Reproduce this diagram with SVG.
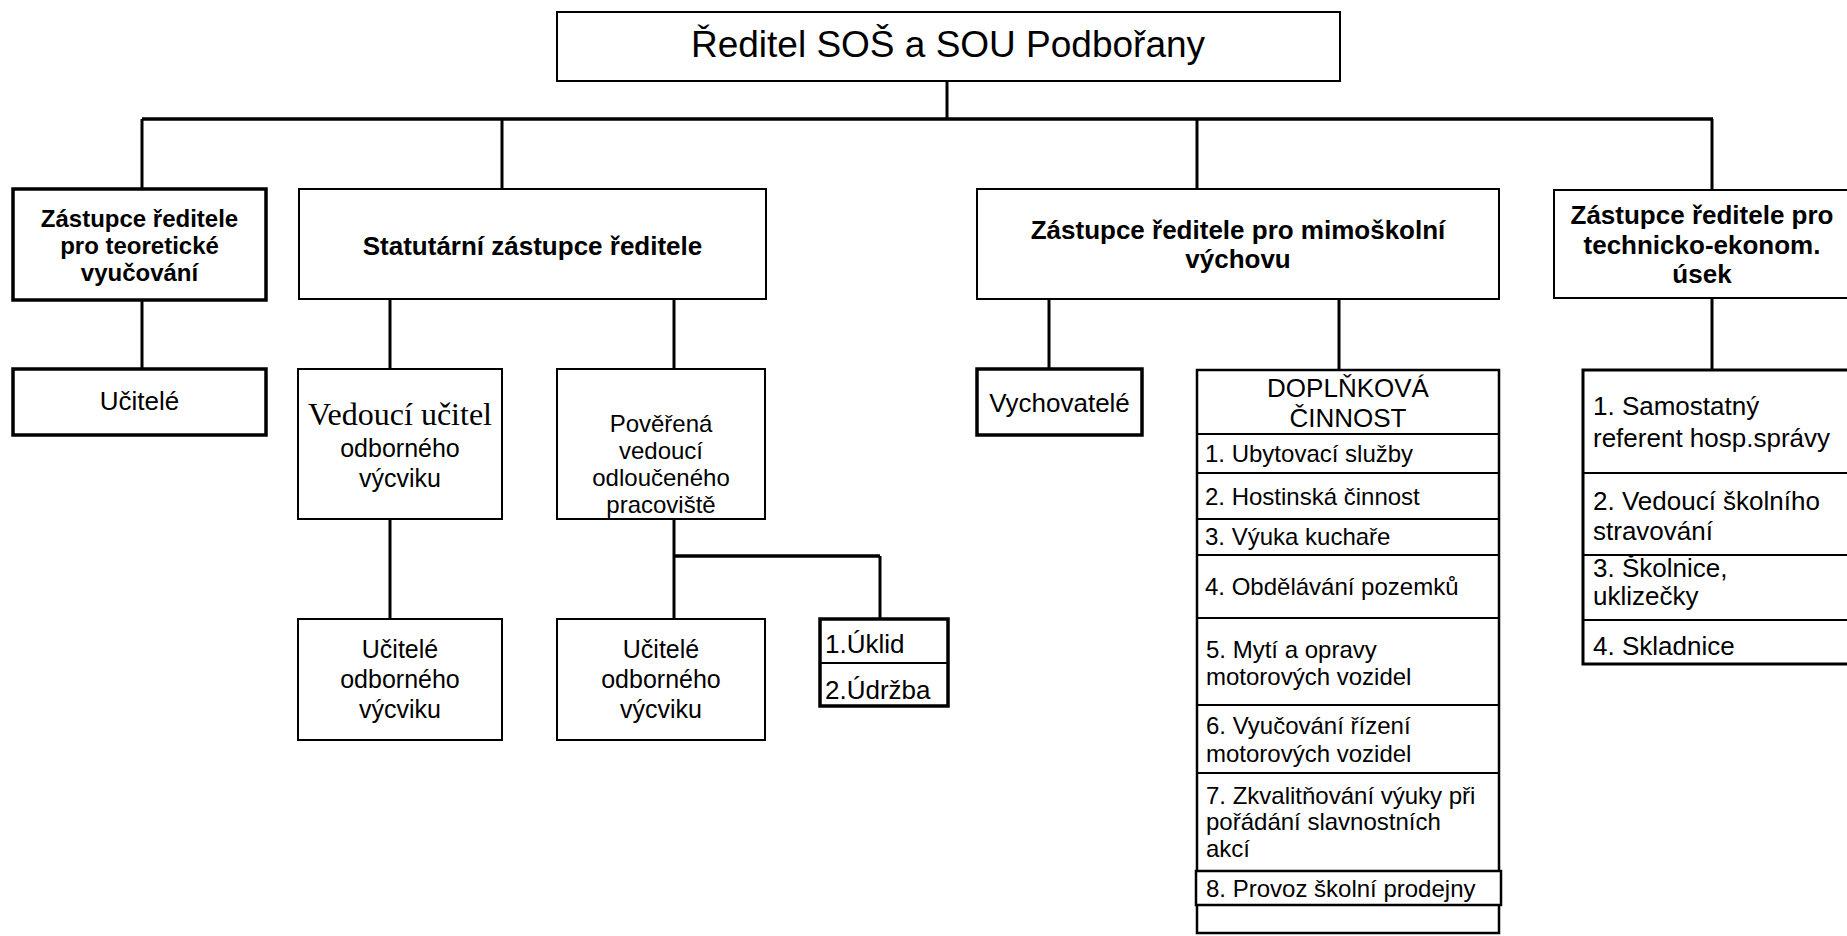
<svg xmlns="http://www.w3.org/2000/svg" width="1847" height="936" viewBox="0 0 1847 936">
<style>
.bg{fill:#ffffff}
.box{fill:#ffffff;stroke:#000000;stroke-width:2}
.thick{fill:#ffffff;stroke:#000000;stroke-width:3.5}
.sep{stroke:#000000;stroke-width:2;fill:none}
.con{stroke:#000000;stroke-width:3;fill:none}
text{font-family:"Liberation Sans",Arial,sans-serif;fill:#000000}
.b{font-weight:bold;text-anchor:middle}
.c{text-anchor:middle}
.serif{font-family:"Liberation Serif","Times New Roman",serif}
</style>
<rect class="bg" x="0" y="0" width="1847" height="936"/>
<g id="connectors">
<line class="con" x1="947" y1="81" x2="947" y2="119"/>
<line class="con" x1="142" y1="119" x2="1713" y2="119" style="stroke-width:3.5"/>
<line class="con" x1="142" y1="119" x2="142" y2="189"/>
<line class="con" x1="502" y1="119" x2="502" y2="189"/>
<line class="con" x1="1197" y1="119" x2="1197" y2="189"/>
<line class="con" x1="1712" y1="119" x2="1712" y2="190"/>
<line class="con" x1="142" y1="300" x2="142" y2="369"/>
<line class="con" x1="390" y1="299" x2="390" y2="369"/>
<line class="con" x1="674" y1="299" x2="674" y2="369"/>
<line class="con" x1="390" y1="519" x2="390" y2="619"/>
<line class="con" x1="674" y1="519" x2="674" y2="619"/>
<line class="con" x1="674" y1="556" x2="880" y2="556" style="stroke-width:3.5"/>
<line class="con" x1="880" y1="556" x2="880" y2="619"/>
<line class="con" x1="1049" y1="299" x2="1049" y2="369"/>
<line class="con" x1="1339" y1="299" x2="1339" y2="370"/>
<line class="con" x1="1712" y1="298" x2="1712" y2="370"/>
</g>
<g id="n-reditel">
<rect class="box" x="557" y="12" width="783" height="69"/>
<text class="c" x="948" y="57" font-size="37">Ředitel SOŠ a SOU Podbořany</text>
</g>
<g id="n-zast-teor">
<rect class="thick" x="13" y="189" width="253" height="111"/>
<text class="b" x="139.5" y="227" font-size="24">Zástupce ředitele</text>
<text class="b" x="139.5" y="254" font-size="24">pro teoretické</text>
<text class="b" x="139.5" y="281" font-size="24">vyučování</text>
</g>
<g id="n-statutarni">
<rect class="box" x="299" y="189" width="467" height="110"/>
<text class="b" x="532.5" y="255" font-size="26">Statutární zástupce ředitele</text>
</g>
<g id="n-mimoskolni">
<rect class="box" x="977" y="189" width="522" height="110"/>
<text class="b" x="1238" y="239" font-size="26">Zástupce ředitele pro mimoškolní</text>
<text class="b" x="1238" y="268" font-size="26">výchovu</text>
</g>
<g id="n-technicko">
<rect class="box" x="1554" y="190" width="300" height="108"/>
<text class="b" x="1702" y="224" font-size="26">Zástupce ředitele pro</text>
<text class="b" x="1702" y="254" font-size="26">technicko-ekonom.</text>
<text class="b" x="1702" y="283" font-size="26">úsek</text>
</g>
<g id="n-ucitele">
<rect class="thick" x="13" y="369" width="253" height="66"/>
<text class="c" x="139.5" y="410" font-size="26">Učitelé</text>
</g>
<g id="n-vedouci">
<rect class="box" x="298" y="369" width="204" height="150"/>
<text class="c serif" x="400" y="425" font-size="32">Vedoucí učitel</text>
<text class="c" x="400" y="457" font-size="25">odborného</text>
<text class="c" x="400" y="487" font-size="25">výcviku</text>
</g>
<g id="n-poverena">
<rect class="box" x="557" y="369" width="208" height="150"/>
<text class="c" x="661" y="432" font-size="24">Pověřená</text>
<text class="c" x="661" y="459" font-size="24">vedoucí</text>
<text class="c" x="661" y="486" font-size="24">odloučeného</text>
<text class="c" x="661" y="513" font-size="24">pracoviště</text>
</g>
<g id="n-ucitele-ov1">
<rect class="box" x="298" y="619" width="204" height="121"/>
<text class="c" x="400" y="658" font-size="25">Učitelé</text>
<text class="c" x="400" y="688" font-size="25">odborného</text>
<text class="c" x="400" y="718" font-size="25">výcviku</text>
</g>
<g id="n-ucitele-ov2">
<rect class="box" x="557" y="619" width="208" height="121"/>
<text class="c" x="661" y="658" font-size="25">Učitelé</text>
<text class="c" x="661" y="688" font-size="25">odborného</text>
<text class="c" x="661" y="718" font-size="25">výcviku</text>
</g>
<g id="n-uklid">
<rect class="thick" x="820" y="619" width="128" height="87"/>
<line class="sep" x1="820" y1="663" x2="948" y2="663"/>
<text x="825" y="653" font-size="26">1.Úklid</text>
<text x="825" y="699" font-size="26">2.Údržba</text>
</g>
<g id="n-vychovatele">
<rect class="thick" x="977" y="369" width="165" height="66"/>
<text class="c" x="1059.5" y="412" font-size="26">Vychovatelé</text>
</g>
<g id="n-doplnkova">
<rect class="thick" x="1197" y="370" width="302" height="563" style="stroke-width:2.5"/>
<line class="sep" x1="1197" y1="434" x2="1499" y2="434"/>
<line class="sep" x1="1197" y1="473" x2="1499" y2="473"/>
<line class="sep" x1="1197" y1="519" x2="1499" y2="519"/>
<line class="sep" x1="1197" y1="555" x2="1499" y2="555"/>
<line class="sep" x1="1197" y1="618" x2="1499" y2="618"/>
<line class="sep" x1="1197" y1="705" x2="1499" y2="705"/>
<line class="sep" x1="1197" y1="773" x2="1499" y2="773"/>
<rect class="thick" x="1196" y="871" width="305" height="34" style="stroke-width:2.5"/>
<text class="c" x="1348" y="397" font-size="26">DOPLŇKOVÁ</text>
<text class="c" x="1348" y="427" font-size="26">ČINNOST</text>
<text x="1205" y="462" font-size="24">1. Ubytovací služby</text>
<text x="1205" y="505" font-size="24">2. Hostinská činnost</text>
<text x="1205" y="545" font-size="24">3. Výuka kuchaře</text>
<text x="1205" y="595" font-size="24">4. Obdělávání pozemků</text>
<text x="1206" y="658" font-size="24">5. Mytí a opravy</text>
<text x="1206" y="685" font-size="24">motorových vozidel</text>
<text x="1206" y="734" font-size="24">6. Vyučování řízení</text>
<text x="1206" y="762" font-size="24">motorových vozidel</text>
<text x="1206" y="804" font-size="24">7. Zkvalitňování výuky při</text>
<text x="1206" y="830" font-size="24">pořádání slavnostních</text>
<text x="1206" y="857" font-size="24">akcí</text>
<text x="1206" y="897" font-size="24">8. Provoz školní prodejny</text>
</g>
<g id="n-samostatny">
<rect class="thick" x="1583" y="370" width="270" height="294" style="stroke-width:3"/>
<line class="sep" x1="1583" y1="473" x2="1847" y2="473"/>
<line class="sep" x1="1583" y1="555" x2="1847" y2="555"/>
<line class="sep" x1="1583" y1="620" x2="1847" y2="620"/>
<text x="1593" y="415" font-size="26">1. Samostatný</text>
<text x="1593" y="447" font-size="26">referent hosp.správy</text>
<text x="1593" y="510" font-size="26">2. Vedoucí školního</text>
<text x="1593" y="540" font-size="26">stravování</text>
<text x="1593" y="577" font-size="26">3. Školnice,</text>
<text x="1593" y="605" font-size="26">uklizečky</text>
<text x="1593" y="655" font-size="26">4. Skladnice</text>
</g>
</svg>
